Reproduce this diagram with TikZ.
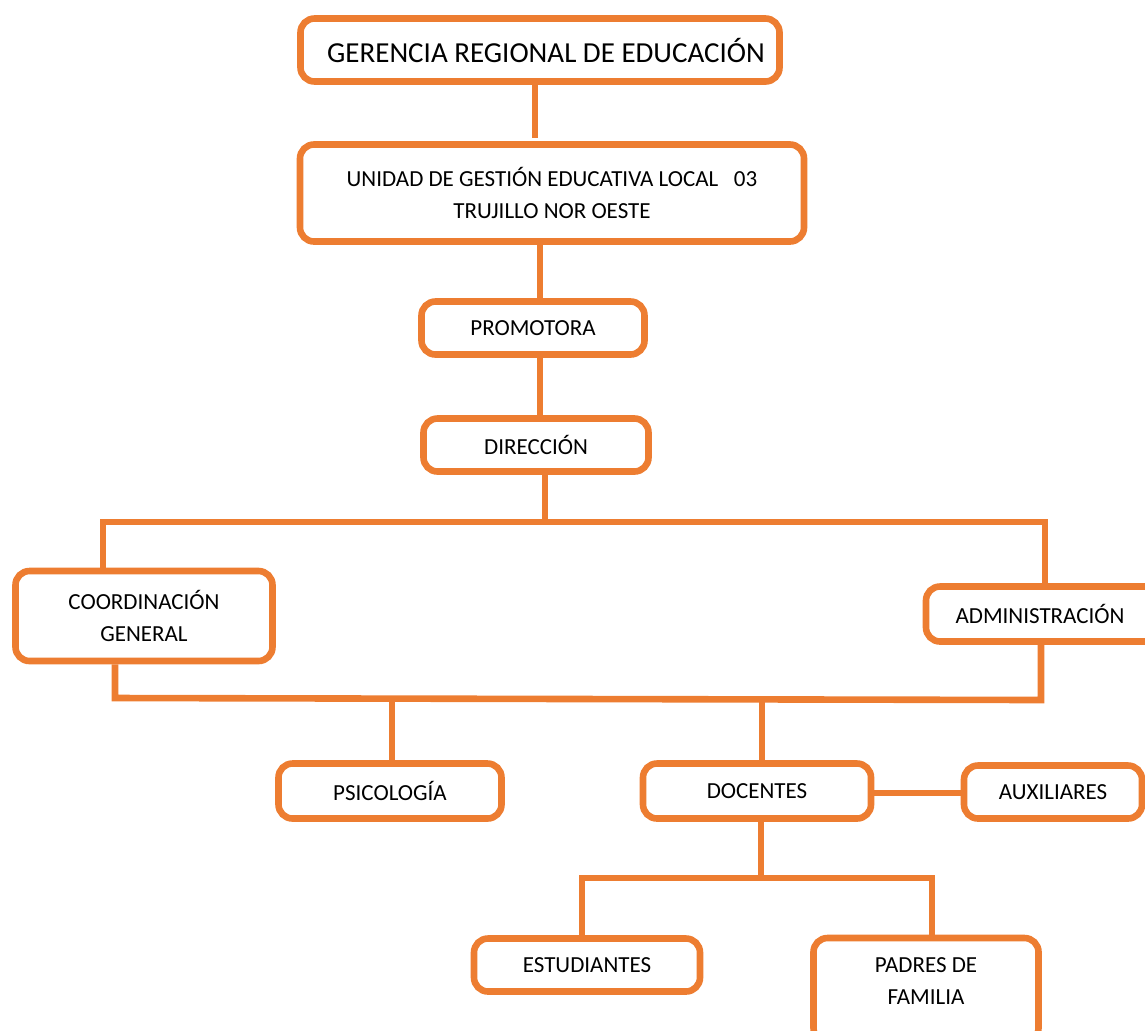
\documentclass[tikz,border=0pt]{standalone}
\usepackage{fontspec}
\setmainfont{Carlito}
\usetikzlibrary{positioning}
\definecolor{naranja}{HTML}{ED7D31}
\tikzset{
  caja/.style={draw=naranja,line width=3.3pt,rounded corners=7pt,fill=white,align=center,
    font=\fontsize{11.5}{16}\selectfont,inner sep=2pt},
  linea/.style={draw=naranja,line width=3.3pt}
}
\begin{document}
\begin{tikzpicture}[x=0.5pt,y=-0.5pt]
      \useasboundingbox (0,0) rectangle (1145,1030);
      \clip (0,0) rectangle (1145,1030);
      % niveles superiores
      \node[caja,minimum width=239.5pt,minimum height=31.5pt,font=\fontsize{14.5}{18}\selectfont] (ger) at (540,50) {\hspace*{6pt}GERENCIA REGIONAL DE EDUCACIÓN};
      \node[caja,minimum width=252pt,minimum height=48.5pt] (ugel) at (552,193) {UNIDAD DE GESTIÓN EDUCATIVA LOCAL\ \ \ 03\\TRUJILLO NOR OESTE};
      \node[caja,minimum width=111.5pt,minimum height=26.5pt] (prom) at (533,328) {PROMOTORA};
      \node[caja,minimum width=112.5pt,minimum height=26.5pt] (dir) at (536,445) {DIRECCIÓN};
      \node[caja,minimum width=128.5pt,minimum height=45pt] (coord) at (144,616) {COORDINACIÓN\\GENERAL};
      \node[caja,minimum width=122pt,minimum height=27.5pt] (adm) at (1048,614) {\hspace*{-8pt}ADMINISTRACIÓN};
      % niveles inferiores
      \node[caja,minimum width=111.5pt,minimum height=27.5pt] (psi) at (390,791) {PSICOLOGÍA};
      \node[caja,minimum width=114pt,minimum height=27.5pt] (doc) at (757,791) {DOCENTES};
      \node[caja,minimum width=89pt,minimum height=26.5pt] (aux) at (1053,792) {AUXILIARES};
      \node[caja,minimum width=113pt,minimum height=26.5pt] (est) at (587,965) {ESTUDIANTES};
      \node[caja,minimum width=112.5pt,minimum height=52pt] (pad) at (926,990) {PADRES DE\\FAMILIA\\[-7pt]\mbox{}};
      % puntos de union
      \coordinate (b1) at (545,522);
      \coordinate (b1l) at (103,522);
      \coordinate (b1r) at (1045,522);
      \coordinate (b2l) at (115,698);
      \coordinate (b2r) at (1041,700);
      \coordinate (b3) at (761,878);
      \coordinate (b3l) at (582,878);
      \coordinate (b3r) at (932,878);
      \begin{scope}
        \draw[linea] (ger.south) ++(-5,0) -- ++(0,53);
        \draw[linea] (prom.north) ++(7,0) -- ++(0,-53);
        \draw[linea] (prom.south) ++(7,0) -- ++(0,57);
        \draw[linea] (dir.south -| b1) -- (b1);
        \draw[linea] (b1l |- coord.north) -- (b1l) -- (b1r) -- ([yshift=-3pt]b1r |- adm.north);
        \draw[linea] (coord.south -| b2l) -- (b2l) -- (b2r) -- ([yshift=3pt]b2r |- adm.south);
        \draw[linea] (psi.north) ++(2,0) -- ++(0,-62);
        \draw[linea] (doc.north) ++(5,0) -- ++(0,-62);
        \draw[linea] (doc.east) ++(0,2) -- (aux.west |- 0,793);
        \draw[linea] (doc.south -| b3) -- (b3);
        \draw[linea] (b3l |- est.north) -- (b3l) -- (b3r) -- (b3r |- pad.north);
      \end{scope}
\end{tikzpicture}
\end{document}
